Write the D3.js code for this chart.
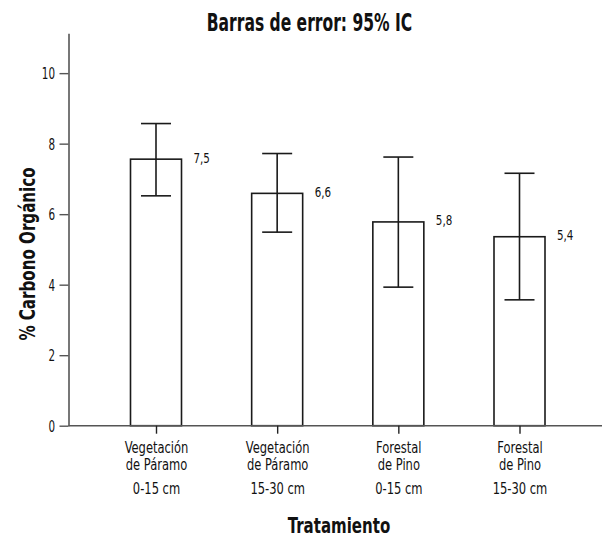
<!DOCTYPE html>
<html>
<head>
<meta charset="utf-8">
<script src="https://cdn.jsdelivr.net/npm/d3@7"></script>
<style>
  html, body { margin: 0; padding: 0; background: #fff; }
  svg { display: block; }
  text { font-family: "DejaVu Sans Condensed", "Liberation Sans Narrow", sans-serif; fill: #111; }
</style>
</head>
<body>
<svg id="chart" width="602" height="538"></svg>
<script>
const categories = [
  ["Vegetación", "de Páramo", "0-15 cm"],
  ["Vegetación", "de Páramo", "15-30 cm"],
  ["Forestal", "de Pino", "0-15 cm"],
  ["Forestal", "de Pino", "15-30 cm"]
];
const means = [7.56, 6.59, 5.78, 5.36];
const valueLabels = ["7,5", "6,6", "5,8", "5,4"];
const ciLower = [6.52, 5.49, 3.93, 3.57];
const ciUpper = [8.57, 7.72, 7.62, 7.16];
const yTicks = [0, 2, 4, 6, 8, 10];
const title = "Barras de error: 95% IC";
const xTitle = "Tratamiento";
const yTitle = "% Carbono Orgánico";

const svg = d3.select("#chart");
const keys = categories.map((c, i) => String(i));

const y = d3.scaleLinear().domain([0, 11.13]).range([425.7, 33.3]);
const x = d3.scalePoint().domain(keys).range([156, 519.5]);
const barW = 51;
const capW = 30;

// helper: condensed text
function ctext(sel, tx, ty, sx, size, weight, anchor, str, rot) {
  const t = sel.append("text")
    .attr("transform", `translate(${tx},${ty})` + (rot ? ` rotate(${rot})` : "") + ` scale(${sx},1)`)
    .attr("text-anchor", anchor).attr("font-size", size).attr("font-weight", weight)
    .text(str);
  return t;
}

// Title
ctext(svg, 309.5, 31, 0.72, 24, "bold", "middle", title);

// Y axis
const yAxis = d3.axisLeft(y).tickValues(yTicks).tickSize(9).tickSizeOuter(0).tickFormat(() => "");
const gy = svg.append("g").attr("transform", "translate(68.5,0)").call(yAxis);
gy.select(".domain").attr("stroke", "#555").attr("stroke-width", 1.6);
gy.selectAll(".tick line").attr("stroke", "#555").attr("stroke-width", 1.4);
gy.selectAll(".tick").each(function(d) {
  d3.select(this).append("text")
    .attr("transform", "translate(-13.5,0) scale(0.72,1)")
    .attr("text-anchor", "end").attr("dy", "0.36em")
    .attr("font-size", 16).attr("fill", "#111").text(d);
});

// Bars
const g = svg.append("g");
g.selectAll("rect.bar").data(means).join("rect")
  .attr("class", "bar")
  .attr("x", (d, i) => x(keys[i]) - barW / 2)
  .attr("y", d => y(d))
  .attr("width", barW)
  .attr("height", d => y(0) - y(d))
  .attr("fill", "#fff").attr("stroke", "#1a1a1a").attr("stroke-width", 1.6);

// X axis
svg.append("line").attr("x1", 68.5).attr("x2", 602).attr("y1", y(0)).attr("y2", y(0))
  .attr("stroke", "#555").attr("stroke-width", 1.6);
const xAxis = d3.axisBottom(x).tickSize(8).tickSizeOuter(0).tickFormat(() => "");
const gx = svg.append("g").attr("transform", `translate(0,${y(0)})`).call(xAxis);
gx.select(".domain").remove();
gx.selectAll(".tick line").attr("stroke", "#222").attr("stroke-width", 1.4);
gx.selectAll(".tick").each(function(d, i) {
  const lines = categories[i];
  const sel = d3.select(this);
  [27.5, 44, 68.5].forEach((yy, k) => {
    sel.append("text")
      .attr("transform", `translate(0,${yy}) scale(0.8,1)`)
      .attr("text-anchor", "middle").attr("font-size", 16).attr("fill", "#111")
      .text(lines[k]);
  });
});

// Error bars
const eb = svg.append("g").attr("stroke", "#1a1a1a").attr("stroke-width", 1.6);
means.forEach((m, i) => {
  const cx = x(keys[i]);
  eb.append("line").attr("x1", cx).attr("x2", cx).attr("y1", y(ciLower[i])).attr("y2", y(ciUpper[i]));
  eb.append("line").attr("x1", cx - capW / 2).attr("x2", cx + capW / 2).attr("y1", y(ciUpper[i])).attr("y2", y(ciUpper[i]));
  eb.append("line").attr("x1", cx - capW / 2).attr("x2", cx + capW / 2).attr("y1", y(ciLower[i])).attr("y2", y(ciLower[i]));
});

// Value labels
means.forEach((m, i) => {
  ctext(svg, x(keys[i]) + 37.5, y(m) + 3.5, 0.82, 14, "normal", "start", valueLabels[i]);
});

// Axis titles
ctext(svg, 339, 532.5, 0.76, 22, "bold", "middle", xTitle);
ctext(svg, 35, 254, 0.8, 21, "bold", "middle", yTitle, -90);
</script>
</body>
</html>
